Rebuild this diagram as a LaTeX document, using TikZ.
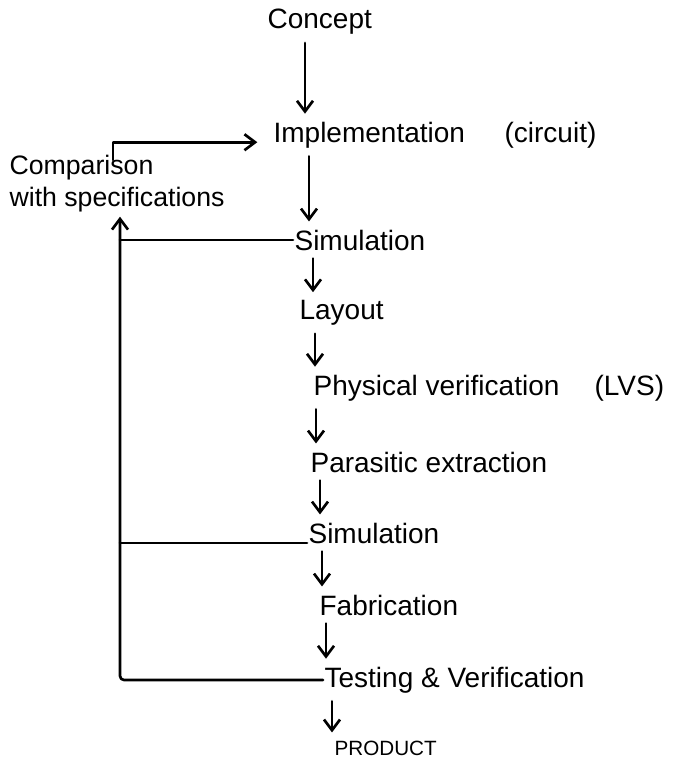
\documentclass[tikz,border=0pt]{standalone}
\usepackage{fontspec}
\setmainfont{Liberation Sans}
\usetikzlibrary{arrows.meta,calc}
\begin{document}
\begin{tikzpicture}[x=0.75pt,y=-0.75pt,
  every node/.style={inner sep=1pt},
  lbl/.style={anchor=west,font=\fontsize{21}{25}\selectfont},
  note/.style={anchor=west,font=\fontsize{20}{24}\selectfont},
  small/.style={anchor=west,font=\fontsize{15.5}{18}\selectfont},
  stroke/.style={line width=2pt,line cap=round,line join=round},
  arr/.style={stroke,-{Straight Barb[length=8pt,width=12pt,line width=2pt]}},
  down/.style={arr,shorten <=5pt,shorten >=5pt}]
\useasboundingbox (0,0) rectangle (674,758);

% process steps
\node[lbl] (concept)   at (266,22)  {Concept};
\node[lbl] (impl)      at (272,135) {Implementation};
\node[lbl] (circuit)   at (503,135) {(circuit)};
\node[lbl] (sim1)      at (293,240) {Simulation};
\node[lbl] (layout)    at (298,313) {Layout};
\node[lbl] (physv)     at (312,388) {Physical verification};
\node[lbl] (lvs)       at (593,388) {(LVS)};
\node[lbl] (parasitic) at (309,462) {Parasitic extraction};
\node[lbl] (sim2)      at (307,533) {Simulation};
\node[lbl] (fab)       at (318,605) {Fabrication};
\node[lbl] (test)      at (323,680) {Testing \& Verification};
\node[small] (product) at (333,748) {PRODUCT};

% comparison box on the left
\node[note,align=left] (comp) at (8,184) {Comparison\\with specifications};

% x positions of the downward arrows
\coordinate (x1) at (305,0);
\coordinate (x2) at (309,0);
\coordinate (x3) at (313,0);
\coordinate (x4) at (315,0);
\coordinate (x5) at (316,0);
\coordinate (x6) at (320,0);
\coordinate (x7) at (322,0);
\coordinate (x8) at (326,0);
\coordinate (x9) at (332,0);

\draw[down] (x1 |- concept.south)   -- (x1 |- impl.north);
\draw[down] (x2 |- impl.south)      -- (x2 |- sim1.north);
\draw[down] (x3 |- sim1.south)      -- (x3 |- layout.north);
\draw[down] (x4 |- layout.south)    -- (x4 |- physv.north);
\draw[down] (x5 |- physv.south)     -- (x5 |- parasitic.north);
\draw[down] (x6 |- parasitic.south) -- (x6 |- sim2.north);
\draw[down] (x7 |- sim2.south)      -- (x7 |- fab.north);
\draw[down] (x8 |- fab.south)       -- (x8 |- test.north);
\draw[down] (x9 |- test.south)      -- (x9 |- product.north);

% feedback loop into the comparison
\coordinate (loop) at (120,0);
\draw[stroke] (sim1.west) -- (sim1.west -| loop);
\draw[stroke] (sim2.base west) -- (sim2.base west -| loop);
\draw[arr,rounded corners=3pt,shorten >=2pt] (test.west) -| (comp.south -| loop);

% comparison feeds back into the implementation
\coordinate (bx) at (113,160);
\draw[arr,shorten >=11pt] (bx) |- (impl.base west);
\end{tikzpicture}
\end{document}
